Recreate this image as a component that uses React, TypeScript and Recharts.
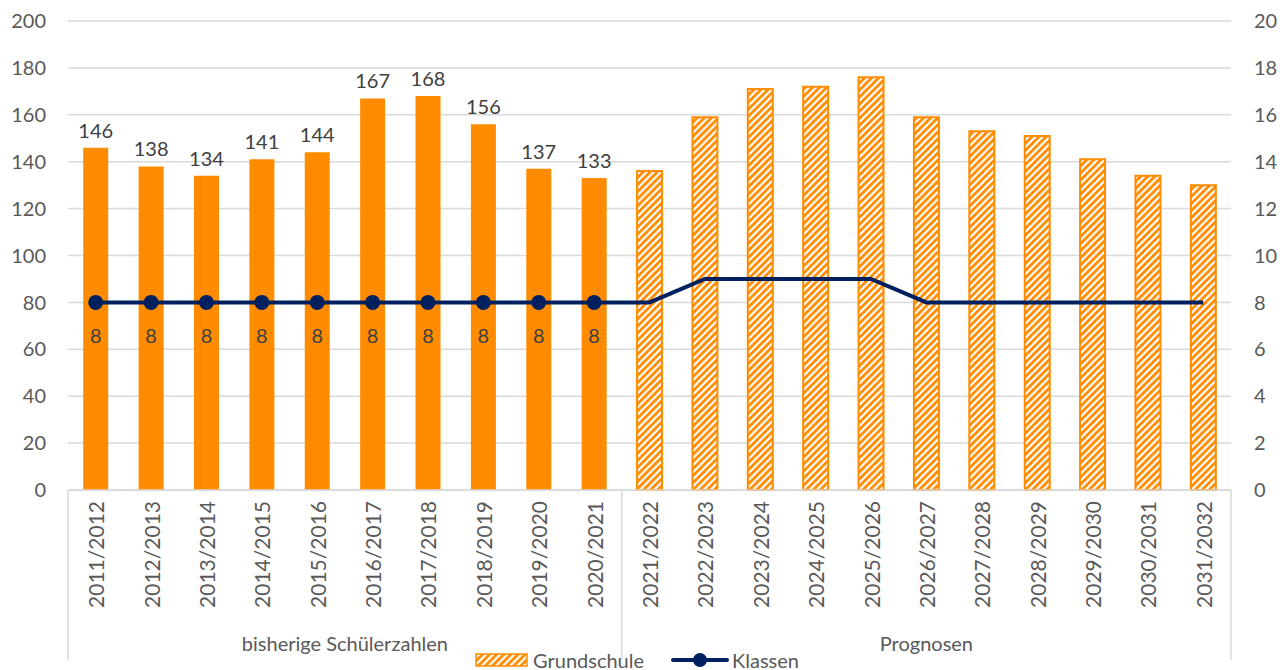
import { Bar, Cell, ComposedChart, CartesianGrid, LabelList, Legend, Line, XAxis, YAxis } from "recharts";

const SCHULJAHRE = [
  "2011/2012", "2012/2013", "2013/2014", "2014/2015", "2015/2016",
  "2016/2017", "2017/2018", "2018/2019", "2019/2020", "2020/2021",
  "2021/2022", "2022/2023", "2023/2024", "2024/2025", "2025/2026",
  "2026/2027", "2027/2028", "2028/2029", "2029/2030", "2030/2031", "2031/2032",
];

const GRUNDSCHULE = [
  146, 138, 134, 141, 144, 167, 168, 156, 137, 133,
  136, 159, 171, 172, 176, 159, 153, 151, 141, 134, 130,
];

const KLASSEN = [8, 8, 8, 8, 8, 8, 8, 8, 8, 8, 8, 9, 9, 9, 9, 8, 8, 8, 8, 8, 8];

const GRUPPEN = ["bisherige Schülerzahlen", "Prognosen"];
const GRUPPEN_GROESSE = [10, 11];

const LEFT_TICKS = [0, 20, 40, 60, 80, 100, 120, 140, 160, 180, 200];
const RIGHT_TICKS = [0, 2, 4, 6, 8, 10, 12, 14, 16, 18, 20];

const ANZAHL_IST = GRUPPEN_GROESSE[0];

const ORANGE = "#FF8C00";
const NAVY = "#002060";
const GRID = "#D9D9D9";
const TEXT = "#595959";
const LABEL = "#404040";

const data = SCHULJAHRE.map((jahr, i) => ({
  jahr,
  schueler: GRUNDSCHULE[i],
  klassen: KLASSEN[i],
}));

// group starts: index of first category in each group
const gruppenStart = GRUPPEN_GROESSE.map((_, g) =>
  GRUPPEN_GROESSE.slice(0, g).reduce((a, b) => a + b, 0)
);

const HatchPattern = ({ id }: { id: string }) => (
  <pattern id={id} patternUnits="userSpaceOnUse" width="5" height="5" patternTransform="rotate(45)">
    <rect width="5" height="5" fill="#fff" />
    <rect width="2.8" height="5" fill={ORANGE} />
  </pattern>
);

const JahrTick = (props: any) => {
  const { x, y, payload } = props;
  const idx: number = payload.index;
  const half: number = payload.offset ?? 27.7;
  const gIdx = gruppenStart.indexOf(idx);
  return (
    <g>
      <text
        transform={`translate(${x},${y + 11}) rotate(-90)`}
        textAnchor="end"
        dominantBaseline="central"
        fontSize={21}
        fill={TEXT}
      >
        {payload.value}
      </text>
      {gIdx >= 0 && (
        <>
          <line x1={x - half} x2={x - half} y1={y} y2={660} stroke={GRID} strokeWidth={1.5} />
          <text
            x={x - half + GRUPPEN_GROESSE[gIdx] * half}
            y={643}
            textAnchor="middle"
            dominantBaseline="central"
            fontSize={20}
            fill={TEXT}
          >
            {GRUPPEN[gIdx]}
          </text>
        </>
      )}
      {idx === SCHULJAHRE.length - 1 && (
        <line x1={x + half} x2={x + half} y1={y} y2={660} stroke={GRID} strokeWidth={1.5} />
      )}
    </g>
  );
};

const BarLabel = (props: any) => {
  const { x, y, width, value, index } = props;
  if (index >= ANZAHL_IST) return null;
  return (
    <text x={x + width / 2} y={y - 18} textAnchor="middle" dominantBaseline="central" fontSize={20} fill={LABEL}>
      {value}
    </text>
  );
};

const KlassenDot = (props: any) => {
  const { cx, cy, index } = props;
  if (index >= ANZAHL_IST) return <g key={`d${index}`} />;
  return <circle key={`d${index}`} cx={cx} cy={cy} r={7.5} fill={NAVY} />;
};

const KlassenLabel = (props: any) => {
  const { x, y, value, index } = props;
  if (index >= ANZAHL_IST) return null;
  return (
    <text x={x} y={y + 33} textAnchor="middle" dominantBaseline="central" fontSize={20} fill={LABEL}>
      {value}
    </text>
  );
};

const LegendContent = () => (
  <div
    style={{
      display: "flex",
      justifyContent: "center",
      alignItems: "center",
      fontSize: 20,
      color: TEXT,
      lineHeight: "20px",
      paddingRight: 6,
    }}
  >
    <svg width={53} height={14} style={{ marginRight: 5 }}>
      <defs>
        <HatchPattern id="hatchLegend" />
      </defs>
      <rect x={1} y={1} width={51} height={12} fill="url(#hatchLegend)" stroke={ORANGE} strokeWidth={1.5} />
    </svg>
    <span style={{ marginRight: 27 }}>Grundschule</span>
    <svg width={58} height={16} style={{ marginRight: 3 }}>
      <line x1={2} x2={56} y1={8} y2={8} stroke={NAVY} strokeWidth={4} strokeLinecap="round" />
      <circle cx={29} cy={8} r={7} fill={NAVY} />
    </svg>
    <span>Klassen</span>
  </div>
);

const App = () => {
  return (
    <div style={{ position: "absolute", left: 0, top: 0, width: 1280, height: 670, fontFamily: "Lato, sans-serif", background: "#fff" }}>
      <ComposedChart
        width={1280}
        height={670}
        data={data}
        margin={{ top: 21, right: 0, left: 0, bottom: 0 }}
        barCategoryGap="27.5%"
      >
        <defs>
          <HatchPattern id="hatch" />
        </defs>
        <CartesianGrid vertical={false} stroke={GRID} strokeWidth={1.5} yAxisId="left" />
        <XAxis
          dataKey="jahr"
          interval={0}
          height={160}
          tick={<JahrTick />}
          tickLine={false}
          tickSize={0}
          tickMargin={0}
          axisLine={{ stroke: GRID, strokeWidth: 1.5 }}
        />
        <YAxis
          yAxisId="left"
          domain={[0, 200]}
          ticks={LEFT_TICKS}
          width={68}
          tickLine={false}
          tickSize={0}
          tickMargin={22}
          axisLine={false}
          tick={{ fontSize: 20, fill: TEXT }}
        />
        <YAxis
          yAxisId="right"
          orientation="right"
          domain={[0, 20]}
          ticks={RIGHT_TICKS}
          width={49}
          tickLine={false}
          tickSize={0}
          tickMargin={23}
          axisLine={false}
          tick={{ fontSize: 20, fill: TEXT }}
        />
        <Legend verticalAlign="bottom" height={20} content={<LegendContent />} />
        <Bar yAxisId="left" dataKey="schueler" name="Grundschule" isAnimationActive={false}>
          {data.map((d, i) => (
            <Cell
              key={d.jahr}
              fill={i < ANZAHL_IST ? ORANGE : "url(#hatch)"}
              stroke={i < ANZAHL_IST ? "none" : ORANGE}
              strokeWidth={i < ANZAHL_IST ? 0 : 2}
            />
          ))}
          <LabelList dataKey="schueler" content={<BarLabel />} />
        </Bar>
        <Line
          yAxisId="right"
          dataKey="klassen"
          name="Klassen"
          stroke={NAVY}
          strokeWidth={4}
          dot={<KlassenDot />}
          activeDot={false}
          isAnimationActive={false}
        >
          <LabelList dataKey="klassen" content={<KlassenLabel />} />
        </Line>
      </ComposedChart>
    </div>
  );
};

export default App;
